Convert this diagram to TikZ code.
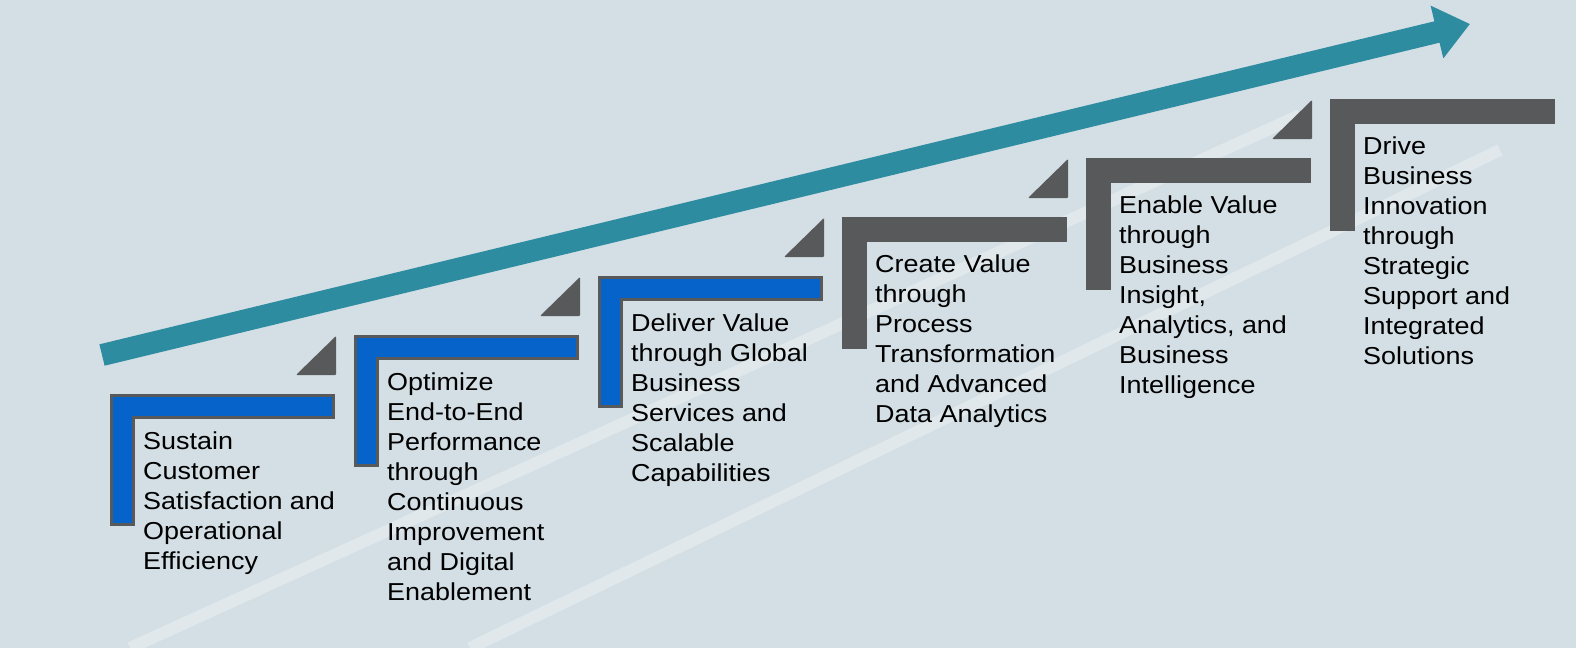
\documentclass[tikz,border=0pt]{standalone}
\usepackage{fontspec}
\setmainfont{Liberation Sans}[FakeStretch=1.1]
\usetikzlibrary{arrows.meta}
\definecolor{bgc}{HTML}{D3DFE5}
\definecolor{teal}{HTML}{2E8CA1}
\definecolor{stepblue}{HTML}{0563C9}
\definecolor{stepgray}{HTML}{58595B}
\begin{document}
\begin{tikzpicture}[x=1pt,y=-1pt,
  lshape/.style={draw=stepgray,line width=3pt,fill=#1},
  tri/.style={fill=stepgray,rounded corners=1pt},
  lbl/.style={anchor=north west,align=left,inner sep=0pt,font=\fontsize{24.5}{30}\selectfont}]
\useasboundingbox (0,0) rectangle (1576,648);
\fill[bgc] (0,0) rectangle (1576,648);
\draw[white,opacity=0.3,line width=12pt] (130,648) -- (1300,115);
\draw[white,opacity=0.3,line width=12pt] (470,648) -- (1500,150);
\draw[teal,line width=22pt,-{Triangle[length=34pt,width=52pt]}] (102,355) coordinate (a0) -- (1470,24) coordinate (a1);
\foreach \i/\c/\t in {0/stepblue/{Sustain\\Customer\\Satisfaction and\\Operational\\Efficiency},
  1/stepblue/{Optimize\\End-to-End\\Performance\\through\\Continuous\\Improvement\\and Digital\\Enablement},
  2/stepblue/{Deliver Value\\through Global\\Business\\Services and\\Scalable\\Capabilities},
  3/stepgray/{Create Value\\through\\Process\\Transformation\\and Advanced\\Data Analytics},
  4/stepgray/{Enable Value\\through\\Business\\Insight,\\Analytics, and\\Business\\Intelligence},
  5/stepgray/{Drive\\Business\\Innovation\\through\\Strategic\\Support and\\Integrated\\Solutions}}{
  \begin{scope}[shift={(111+244*\i,395-59*\i)}]
    \draw[lshape=\c] (0,0) -- (222,0) -- (222,22) -- (22,22) -- (22,129) -- (0,129) -- cycle;
    \ifnum\i<5 \fill[tri] (185,-20) -- (225,-59) -- (225,-20) -- cycle;\fi
    \node[lbl] (t\i) at (32,37) {\t};
  \end{scope}
}
\end{tikzpicture}
\end{document}
